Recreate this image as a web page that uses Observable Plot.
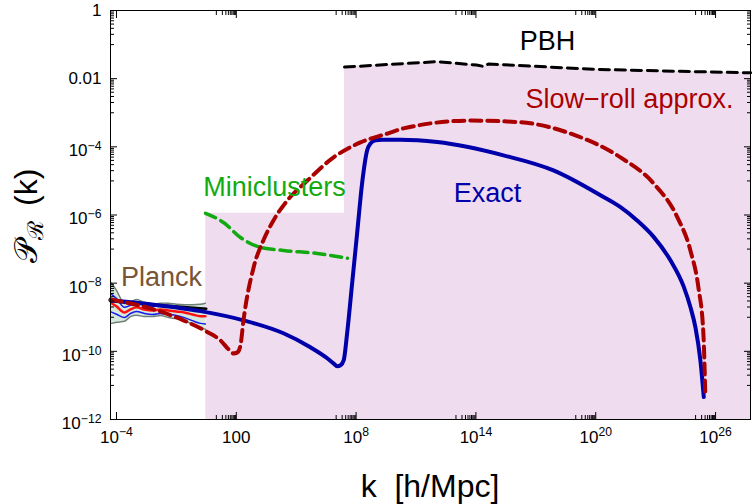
<!DOCTYPE html>
<html><head><meta charset="utf-8">
<script src="https://cdn.jsdelivr.net/npm/d3@7"></script>
<script src="https://cdn.jsdelivr.net/npm/@observablehq/plot@0.6"></script>
<style>
body{margin:0;background:#fff;}
#chart{width:752px;height:504px;}
</style></head><body><div id="chart"></div>
<script>
// ---- data (log10 values) ----
const exactLogK = [-4.30, -2.30, 0.21, 2.36, 4.36, 5.71, 6.57, 6.88, 7.05, 7.22, 7.38, 7.55, 7.80, 8.05, 8.30, 8.55, 8.72, 8.97, 9.32, 10.22, 12.06, 15.38, 17.88, 20.41, 21.24, 22.07, 22.91, 23.74, 24.41, 24.74, 24.99, 25.24, 25.41];
const exactLogP = [-8.50, -8.62, -8.82, -9.09, -9.47, -9.88, -10.21, -10.36, -10.44, -10.41, -10.26, -9.47, -8.01, -6.54, -5.07, -4.11, -3.90, -3.81, -3.79, -3.79, -3.86, -4.25, -4.69, -5.48, -5.77, -6.16, -6.65, -7.33, -8.11, -8.70, -9.29, -10.26, -11.34];

const slowLogK = [-4.30, -2.30, -0.65, 0.54, 1.21, 1.61, 1.86, 2.06, 2.21, 2.36, 2.87, 3.36, 3.86, 4.56, 5.56, 6.87, 8.22, 9.57, 10.37, 13.73, 16.23, 18.73, 21.24, 22.89, 24.09, 24.74, 25.14, 25.39, 25.49];
const slowLogP = [-8.48, -8.74, -9.09, -9.43, -9.68, -9.94, -10.06, -10.03, -9.82, -9.09, -7.53, -6.74, -6.16, -5.57, -4.99, -4.31, -3.87, -3.61, -3.46, -3.23, -3.28, -3.61, -4.31, -5.07, -6.07, -7.04, -8.12, -9.47, -11.35];

const miniLogK = [0.46, 1.36, 2.21, 3.21, 4.36, 6.06, 7.57];
const miniLogP = [-5.95, -6.22, -6.66, -6.95, -7.04, -7.13, -7.27];

const pbhLogK = [7.42, 12.06, 14.03, 14.38, 14.63, 20.09, 27.75];
const pbhLogP = [-1.66, -1.50, -1.60, -1.64, -1.57, -1.73, -1.83];

const planckLogK = [-4.25, -4.0, -3.6, -3.3, -3.0, -2.6, -2.2, -1.8, -1.4, -1.0, -0.6, -0.2, 0.2, 0.45];
const planckLogP = [-8.59, -8.68, -8.86, -8.77, -8.71, -8.77, -8.80, -8.77, -8.80, -8.83, -8.86, -8.92, -8.97, -8.97];
const planckErr1 = [0.26, 0.23, 0.15, 0.12, 0.12, 0.12, 0.12, 0.12, 0.12, 0.12, 0.15, 0.18, 0.21, 0.23];
const planckErr2 = [0.59, 0.47, 0.26, 0.21, 0.23, 0.21, 0.18, 0.18, 0.21, 0.21, 0.23, 0.29, 0.35, 0.38];
const planckFitLogK = [-4.3, 0.5];
const planckFitLogP = [-8.53, -8.75];

const shadeLogK = [0.47, 7.42];
const shadeLogP = [-5.95, -5.95];

const labelText = ["PBH", "Slow\u2212roll approx.", "Miniclusters", "Exact", "Planck"];
const labelLogK = [17.58, 21.69, 3.91, 14.58, -1.75];
const labelLogP = [-0.91, -2.61, -5.19, -5.37, -7.83];
const labelColor = ["#000000", "#aa0000", "#11aa11", "#0000aa", "#7a5533"];

const xMajor = [1e-4, 1e2, 1e8, 1e14, 1e20, 1e26];
const xMajorLabels = ["10^\u22124", "100", "10^8", "10^14", "10^20", "10^26"];
const yMajor = [1, 1e-2, 1e-4, 1e-6, 1e-8, 1e-10, 1e-12];
const yMajorLabels = ["1", "0.01", "10^\u22124", "10^\u22126", "10^\u22128", "10^\u221210", "10^\u221212"];

// ---- build tables ----
const pts = (ks, ps) => ks.map((v, i) => ({k: 10 ** v, p: 10 ** ps[i]}));
const exact = pts(exactLogK, exactLogP);
const slow = pts(slowLogK, slowLogP);
const mini = pts(miniLogK, miniLogP);
const pbh = pts(pbhLogK, pbhLogP);
const fit = pts(planckFitLogK, planckFitLogP);
const shade = pts(shadeLogK.concat(pbhLogK), shadeLogP.concat(pbhLogP));
const planck = planckLogK.map((v, i) => ({
  k: 10 ** v, p: 10 ** planckLogP[i],
  lo1: 10 ** (planckLogP[i] - planckErr1[i]), hi1: 10 ** (planckLogP[i] + planckErr1[i]),
  lo2: 10 ** (planckLogP[i] - planckErr2[i]), hi2: 10 ** (planckLogP[i] + planckErr2[i])
}));
const labels = labelText.map((t, i) => ({t, k: 10 ** labelLogK[i], p: 10 ** labelLogP[i], c: labelColor[i]}));

const near = (a, b) => Math.abs(Math.log10(a) - Math.log10(b)) < 1e-6;
const fmtX = d => { const i = xMajor.findIndex(v => near(v, d)); return i < 0 ? "" : xMajorLabels[i]; };
const fmtY = d => { const i = yMajor.findIndex(v => near(v, d)); return i < 0 ? "" : yMajorLabels[i]; };
const xMinor = [], yMinor = [];
for (const n of [2, 8, 14, 20, 26]) for (let m = 1; m <= 9; m++) xMinor.push(m * 10 ** (n - 1));
for (const n of [0, -2, -4, -6, -8, -10]) for (let m = 1; m <= 9; m++) yMinor.push(m * 10 ** (n - 1));
const none = () => "";

const plot = Plot.plot({
  width: 752, height: 504,
  marginLeft: 110, marginRight: 2, marginTop: 10, marginBottom: 85,
  style: {fontFamily: "'Liberation Sans', Arial, sans-serif", fontSize: "17px", background: "white", color: "black"},
  x: {type: "log", domain: [10 ** -4.3, 10 ** 27.75]},
  y: {type: "log", domain: [1e-12, 1]},
  marks: [
    Plot.areaY(shade, {x: "k", y1: 1e-12, y2: "p", fill: "#efdcee"}),
    Plot.areaY(planck, {x: "k", y1: "lo2", y2: "hi2", fill: "#d5e9dc", curve: "monotone-x"}),
    Plot.line(planck, {x: "k", y: "hi2", stroke: "#6f7f78", strokeWidth: 1.5, curve: "monotone-x"}),
    Plot.line(planck, {x: "k", y: "lo2", stroke: "#6f7f78", strokeWidth: 1.5, curve: "monotone-x"}),
    Plot.line(planck, {x: "k", y: "hi1", stroke: "#1a1aee", strokeWidth: 1.5, curve: "monotone-x"}),
    Plot.line(planck, {x: "k", y: "lo1", stroke: "#1a1aee", strokeWidth: 1.5, curve: "monotone-x"}),
    Plot.line(planck, {x: "k", y: "p", stroke: "#ff1010", strokeWidth: 2.5, curve: "monotone-x"}),
    Plot.line(fit, {x: "k", y: "p", stroke: "black", strokeWidth: 2.5}),
    Plot.line(mini, {x: "k", y: "p", stroke: "#11aa11", strokeWidth: 3.5, strokeDasharray: "11,6", curve: "monotone-x"}),
    Plot.line(exact, {x: "k", y: "p", stroke: "#0000aa", strokeWidth: 4, curve: "monotone-x"}),
    Plot.line(slow, {x: "k", y: "p", stroke: "#aa0000", strokeWidth: 4, strokeDasharray: "11,6", curve: "monotone-x"}),
    Plot.line(pbh, {x: "k", y: "p", stroke: "black", strokeWidth: 3, strokeDasharray: "10,6"}),
    Plot.text(labels, {x: "k", y: "p", text: "t", fill: "c", fontSize: 27}),
    Plot.frame({stroke: "black", strokeWidth: 1}),
    Plot.axisX(xMajor, {anchor: "bottom", tickSize: 0, tickPadding: 11, tickFormat: fmtX, label: null}),
    Plot.axisX(xMajor, {anchor: "bottom", tickSize: -7, tickFormat: none, label: null}),
    Plot.axisX(xMinor, {anchor: "bottom", tickSize: -4, tickFormat: none, label: null}),
    Plot.axisX(xMajor, {anchor: "top", tickSize: -7, tickFormat: none, label: null}),
    Plot.axisX(xMinor, {anchor: "top", tickSize: -4, tickFormat: none, label: null}),
    Plot.axisY(yMajor, {anchor: "left", tickSize: 0, tickPadding: 9, tickFormat: fmtY, label: null}),
    Plot.axisY(yMajor, {anchor: "left", tickSize: -7, tickFormat: none, label: null}),
    Plot.axisY(yMinor, {anchor: "left", tickSize: -4, tickFormat: none, label: null}),
    Plot.axisY(yMajor, {anchor: "right", tickSize: -7, tickFormat: none, label: null}),
    Plot.axisY(yMinor, {anchor: "right", tickSize: -4, tickFormat: none, label: null})
  ]
});
document.getElementById("chart").appendChild(plot);

// superscripts in tick labels
const svg = d3.select(plot);
svg.selectAll('g[aria-label="x-axis tick label"] text, g[aria-label="y-axis tick label"] text').each(function () {
  const t = this.textContent;
  if (t.includes("^")) {
    const [b, e] = t.split("^");
    const sel = d3.select(this);
    sel.text(b);
    sel.append("tspan").attr("dy", "-0.5em").attr("font-size", "0.72em").text(e);
    if (this.parentNode.getAttribute("aria-label").startsWith("y")) {
      this.setAttribute("transform", (this.getAttribute("transform") || "") + " translate(0,4)");
    }
  }
});
// axis titles
svg.append("text").attr("x", 430).attr("y", 497).attr("text-anchor", "middle")
  .attr("font-size", 32).attr("fill", "black").text("k\u00a0\u00a0[h/Mpc]");
const yl = svg.append("text").attr("transform", "translate(37,216) rotate(-90)")
  .attr("text-anchor", "middle").attr("font-size", 32).attr("fill", "black");
yl.append("tspan").text("\u{1D4AB}");
yl.append("tspan").attr("font-size", 22).attr("dy", 6).text("\u211B");
yl.append("tspan").attr("dy", -6).text("\u00a0\u2009(k)");
</script>
</body></html>
